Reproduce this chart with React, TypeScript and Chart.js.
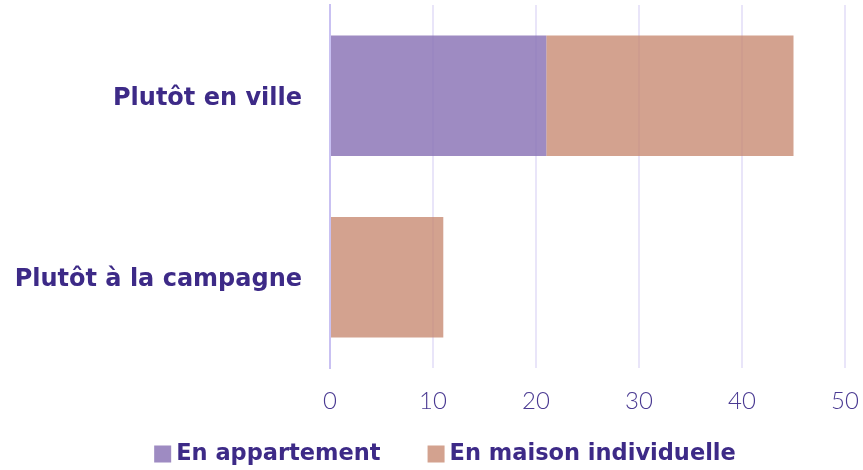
import React, { useEffect, useRef } from "react";
import { Chart, registerables } from "chart.js";

Chart.register(...registerables);

const categories = ["Plutôt en ville", "Plutôt à la campagne"];
const seriesNames = ["En appartement", "En maison individuelle"];
const appartement = [21, 0];
const maison = [24, 11];
const tickMax = 50;
const tickStep = 10;

const TEXT = "#3d2a87";

// Legend drawn on the canvas from the datasets' labels and colours
const bottomLegend = {
  id: "bottomLegend",
  afterDraw(chart: any) {
    const ctx = chart.ctx;
    const box = 17;
    const gap = 5;
    const itemGap = 47;
    const centerX = 445;
    const centerY = 454;
    ctx.save();
    ctx.font = "bold 22.5px 'DejaVu Sans'";
    ctx.textBaseline = "middle";
    const items = chart.data.datasets.map((ds: any) => ({
      label: ds.label,
      color: ds.backgroundColor,
      w: box + gap + ctx.measureText(ds.label).width,
    }));
    const total = items.reduce((s: number, it: any) => s + it.w, 0) + itemGap * (items.length - 1);
    let x = centerX - total / 2;
    for (const it of items) {
      ctx.fillStyle = it.color;
      ctx.fillRect(x, centerY - box / 2, box, box);
      ctx.fillStyle = TEXT;
      ctx.textAlign = "left";
      ctx.fillText(it.label, x + box + gap, centerY);
      x += it.w + itemGap;
    }
    ctx.restore();
  },
};

export default function App() {
  const ref = useRef<HTMLCanvasElement | null>(null);
  useEffect(() => {
    if (!ref.current) return;
    const chart = new Chart(ref.current, {
      type: "bar",
      data: {
        labels: categories,
        datasets: [
          {
            label: seriesNames[0],
            data: appartement,
            backgroundColor: "rgba(137,113,181,0.82)",
            borderWidth: 0,
            categoryPercentage: 1,
            barPercentage: 0.665,
          },
          {
            label: seriesNames[1],
            data: maison,
            backgroundColor: "rgba(198,136,112,0.78)",
            borderWidth: 0,
            categoryPercentage: 1,
            barPercentage: 0.665,
          },
        ],
      },
      options: {
        indexAxis: "y",
        responsive: false,
        animation: false,
        layout: { padding: { top: 5, right: 18, left: 0, bottom: 0 } },
        scales: {
          x: {
            stacked: true,
            min: 0,
            max: tickMax,
            ticks: {
              stepSize: tickStep,
              color: "#4a3a92",
              font: { family: "Lato", size: 24, weight: "300" },
              padding: 19,
            },
            grid: { color: "#e9e5f9", lineWidth: 2, drawTicks: false },
            border: { display: false },
            afterFit: (s: any) => {
              s.height = 102;
              s.paddingLeft = 0;
              s.paddingRight = 0;
            },
          },
          y: {
            stacked: true,
            ticks: {
              color: TEXT,
              font: { family: "DejaVu Sans", size: 24, weight: "bold" },
              padding: 28,
              labelOffset: 3,
            },
            grid: { display: false, drawTicks: false },
            border: { display: true, color: "#c9c1f2", width: 2 },
            afterFit: (s: any) => {
              s.width = 330;
              s.paddingTop = 0;
              s.paddingBottom = 0;
            },
          },
        },
        plugins: {
          legend: { display: false },
          tooltip: { enabled: false },
        },
      },
      plugins: [bottomLegend],
    });
    return () => chart.destroy();
  }, []);
  return (
    <div style={{ position: "fixed", left: 0, top: 0, width: 863, height: 470, background: "#fff" }}>
      <canvas ref={ref} width={863} height={470} />
    </div>
  );
}
